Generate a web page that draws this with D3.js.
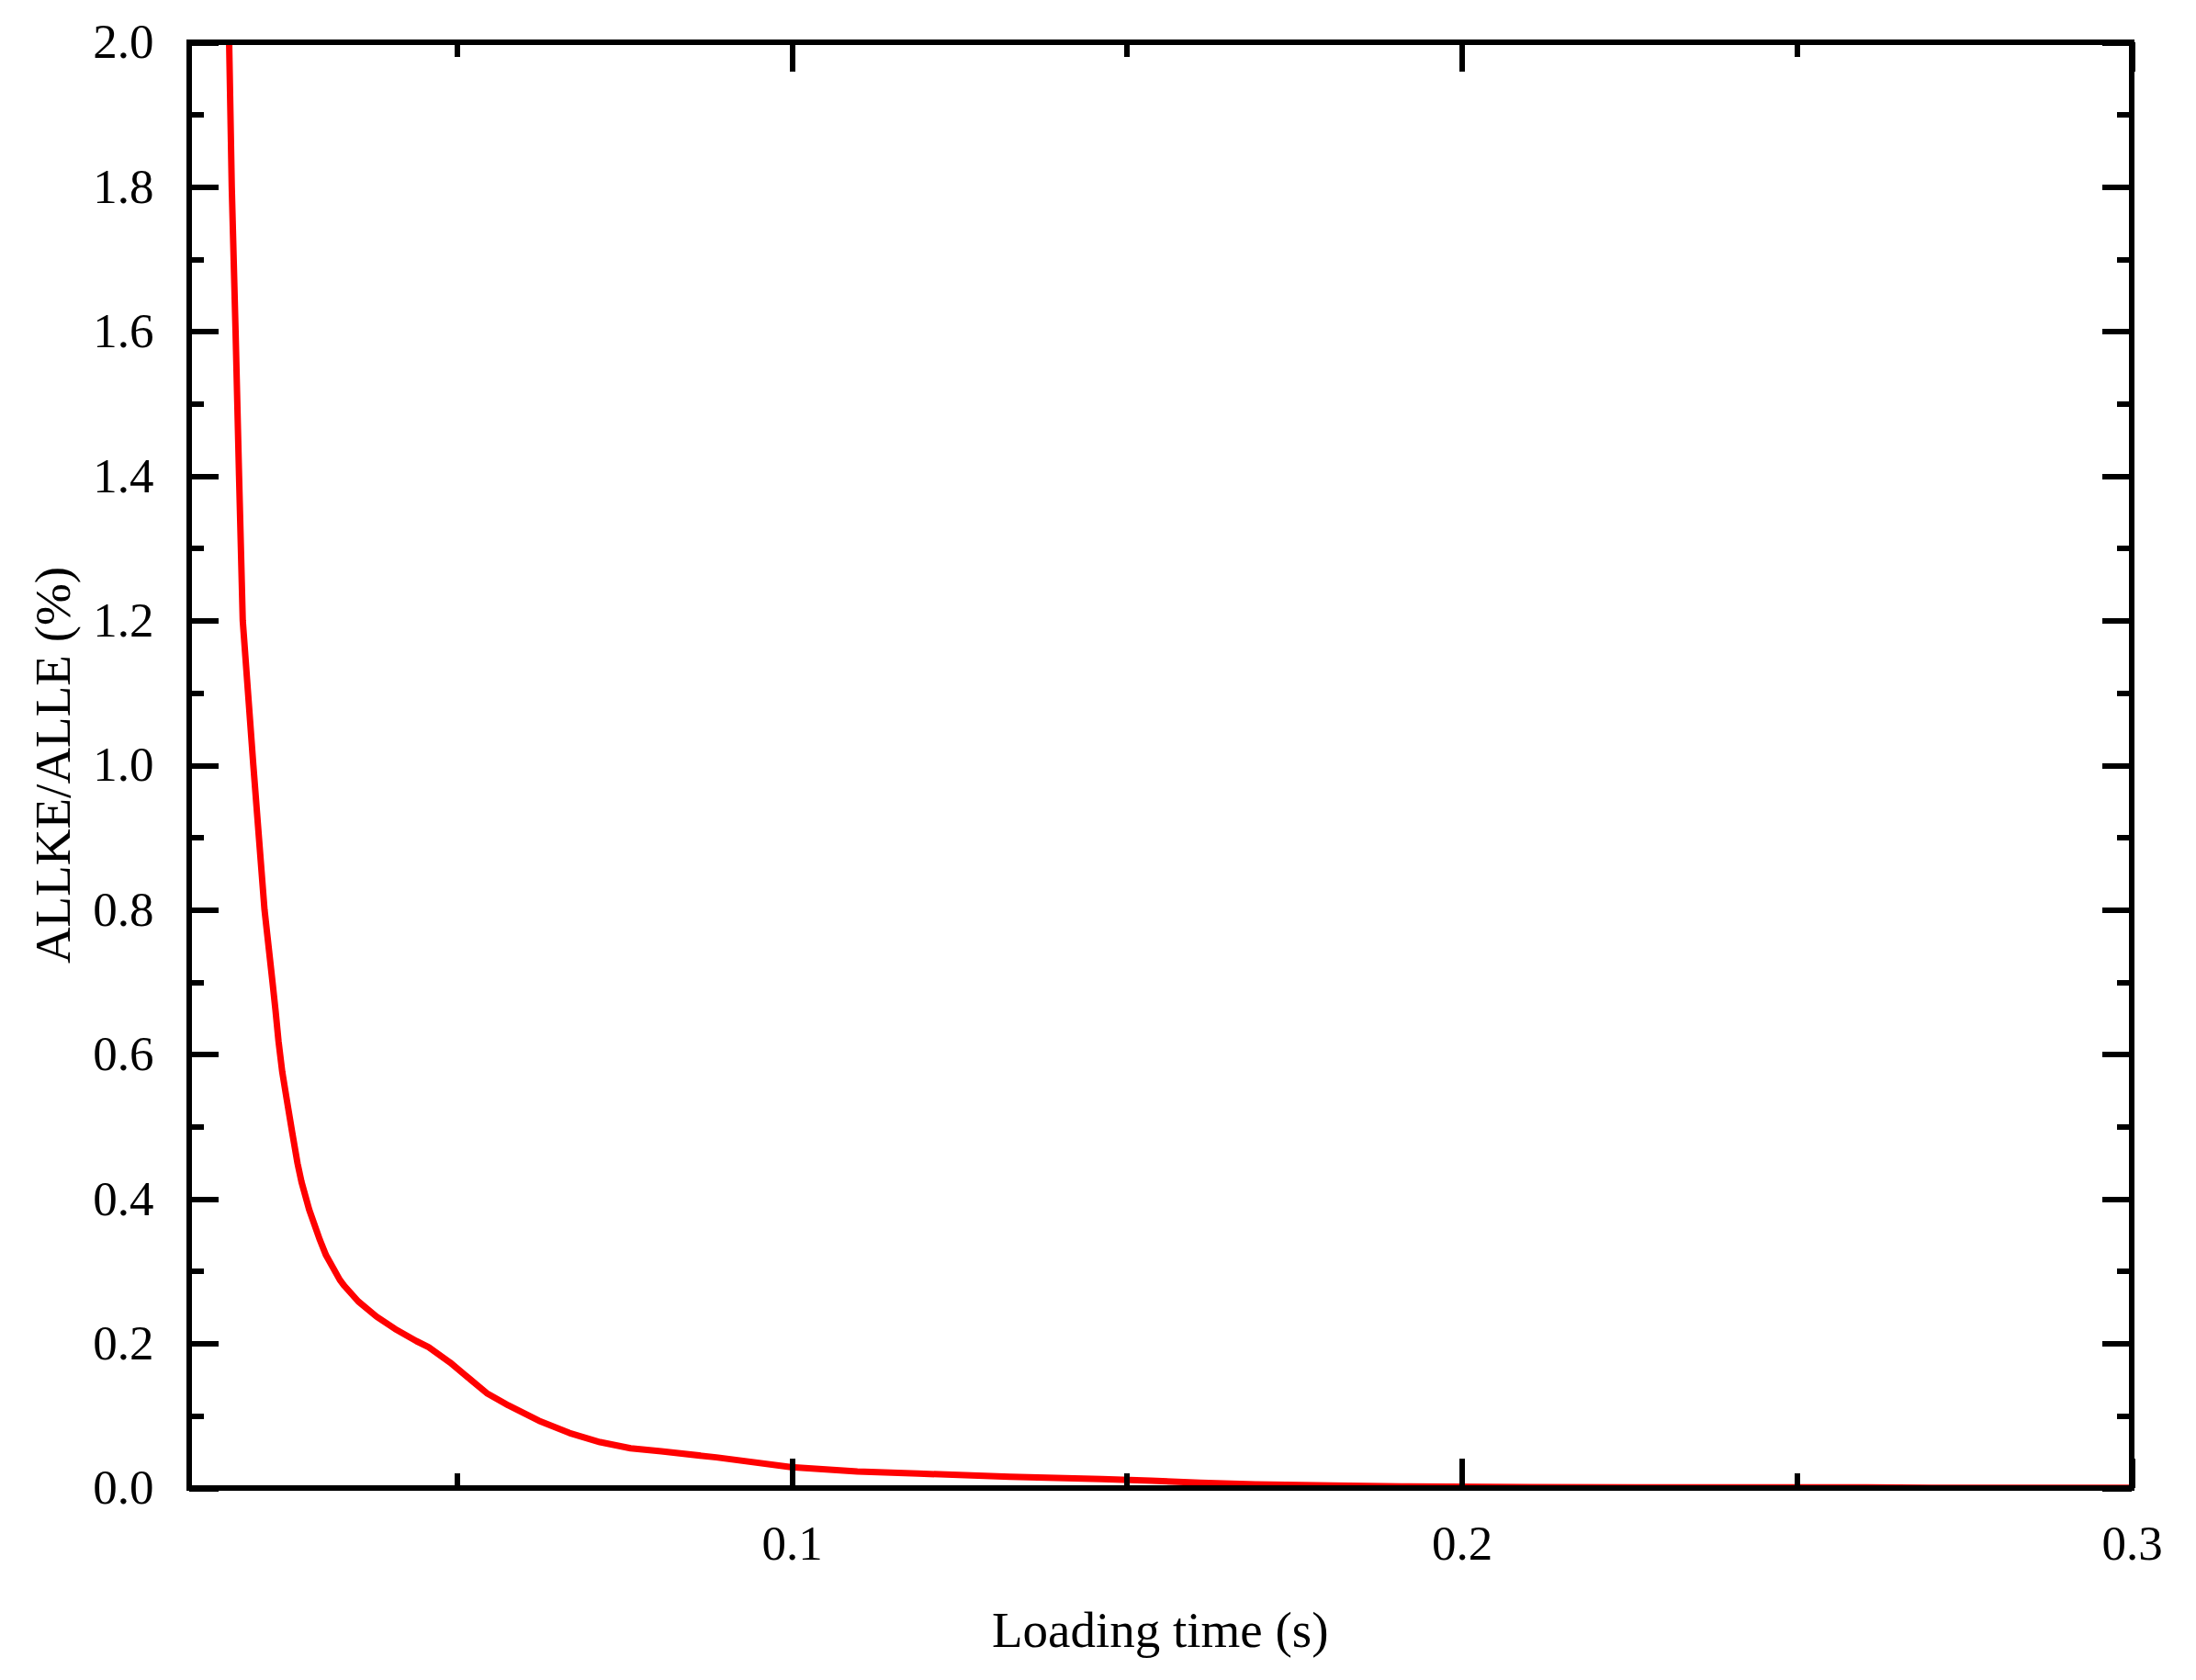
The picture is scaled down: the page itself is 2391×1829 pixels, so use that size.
<!DOCTYPE html>
<html>
<head>
<meta charset="utf-8">
<script src="https://d3js.org/d3.v7.min.js"></script>
<style>
  html, body { margin: 0; padding: 0; background: #ffffff; }
  svg { display: block; }
  text { font-family: "Liberation Serif", "Times New Roman", serif; fill: #000; }
</style>
</head>
<body>
<svg id="chart" width="2391" height="1829"></svg>
<script>
// ---- data ----
const loadingTime = [
  0.01544, 0.01603, 0.01642, 0.01699, 0.01751, 0.01806, 0.01964, 0.02131, 0.0225,
  0.02295, 0.0234, 0.02395, 0.02469, 0.02546, 0.02624, 0.02683, 0.02798, 0.02958,
  0.03049, 0.03255, 0.03324, 0.03529, 0.03803, 0.04077, 0.04397, 0.0458, 0.049,
  0.05174, 0.05448, 0.05768, 0.06225, 0.06682, 0.07139, 0.07596, 0.08053, 0.08875,
  0.0999, 0.1098, 0.1189, 0.1326, 0.1463, 0.1536, 0.161, 0.1692, 0.1806, 0.192,
  0.2103, 0.23, 0.25, 0.26, 0.27, 0.3
];
const allkeRatio = [
  2.2, 2.0, 1.8, 1.6, 1.4, 1.2, 1.0, 0.8, 0.7,
  0.661, 0.618, 0.576, 0.534, 0.491, 0.449, 0.4235, 0.385, 0.343,
  0.322, 0.288, 0.2795, 0.2583, 0.2372, 0.2202, 0.2033, 0.1948, 0.1737,
  0.1525, 0.1313, 0.1144, 0.0931, 0.0762, 0.0635, 0.055, 0.0508, 0.0424,
  0.0288, 0.0229, 0.0199, 0.0157, 0.0123, 0.0102, 0.0072, 0.0051, 0.0034, 0.0022,
  0.0013, 0.001, 0.0008, 0.0009, 0.0004, 0.0002
];
const xMajorTicks = [0.1, 0.2, 0.3];
const xMinorTicks = [0.05, 0.15, 0.25];
const yMajorTicks = [0, 0.2, 0.4, 0.6, 0.8, 1.0, 1.2, 1.4, 1.6, 1.8, 2.0];
const yMinorTicks = [0.1, 0.3, 0.5, 0.7, 0.9, 1.1, 1.3, 1.5, 1.7, 1.9];
const xDomain = [0.01, 0.3];
const yDomain = [0, 2.0];
const xTitle = "Loading time (s)";
const yTitle = "ALLKE/ALLE (%)";

// ---- layout ----
const pL = 205.5, pR = 2321, pT = 46, pB = 1620;
const lineW = 6, majorLen = 32, minorLen = 16, fontSize = 53;

const svg = d3.select("#chart");
svg.append("rect").attr("width", 2391).attr("height", 1829).attr("fill", "#fff");

const x = d3.scaleLinear().domain(xDomain).range([pL, pR]);
const y = d3.scaleLinear().domain(yDomain).range([pB, pT]);

const data = loadingTime.map((t, i) => ({ t, v: allkeRatio[i] }));

// clip
svg.append("defs").append("clipPath").attr("id", "plotClip")
  .append("rect").attr("x", pL).attr("y", pT)
  .attr("width", pR - pL).attr("height", pB - pT);

// curve
svg.append("path")
  .datum(data)
  .attr("clip-path", "url(#plotClip)")
  .attr("fill", "none")
  .attr("stroke", "#ff0000")
  .attr("stroke-width", 7)
  .attr("stroke-linejoin", "round")
  .attr("d", d3.line().x(d => x(d.t)).y(d => y(d.v)));

function styleAxis(g) {
  g.selectAll(".domain").remove();
  g.selectAll(".tick line").attr("stroke", "#000").attr("stroke-width", lineW)
    .attr("shape-rendering", "crispEdges");
  g.selectAll(".tick text").attr("font-size", fontSize)
    .attr("font-family", "Liberation Serif, Times New Roman, serif").attr("fill", "#000");
}

// bottom axis major with labels
const gB = svg.append("g").attr("transform", `translate(0,${pB})`)
  .call(d3.axisBottom(x).tickValues(xMajorTicks).tickSize(-majorLen).tickPadding(40)
    .tickFormat(d3.format(".1f")));
styleAxis(gB);
const gBm = svg.append("g").attr("transform", `translate(0,${pB})`)
  .call(d3.axisBottom(x).tickValues(xMinorTicks).tickSize(-minorLen).tickFormat(""));
styleAxis(gBm);

// top axis
const gT = svg.append("g").attr("transform", `translate(0,${pT})`)
  .call(d3.axisTop(x).tickValues(xMajorTicks).tickSize(-majorLen).tickFormat(""));
styleAxis(gT);
const gTm = svg.append("g").attr("transform", `translate(0,${pT})`)
  .call(d3.axisTop(x).tickValues(xMinorTicks).tickSize(-minorLen).tickFormat(""));
styleAxis(gTm);

// left axis
const gL = svg.append("g").attr("transform", `translate(${pL},0)`)
  .call(d3.axisLeft(y).tickValues(yMajorTicks).tickSize(-majorLen).tickPadding(38)
    .tickFormat(d3.format(".1f")));
styleAxis(gL);
const gLm = svg.append("g").attr("transform", `translate(${pL},0)`)
  .call(d3.axisLeft(y).tickValues(yMinorTicks).tickSize(-minorLen).tickFormat(""));
styleAxis(gLm);

// right axis
const gR = svg.append("g").attr("transform", `translate(${pR},0)`)
  .call(d3.axisRight(y).tickValues(yMajorTicks).tickSize(-majorLen).tickFormat(""));
styleAxis(gR);
const gRm = svg.append("g").attr("transform", `translate(${pR},0)`)
  .call(d3.axisRight(y).tickValues(yMinorTicks).tickSize(-minorLen).tickFormat(""));
styleAxis(gRm);

// frame
svg.append("rect")
  .attr("x", pL).attr("y", pT)
  .attr("width", pR - pL).attr("height", pB - pT)
  .attr("fill", "none").attr("stroke", "#000").attr("stroke-width", lineW)
  .attr("shape-rendering", "crispEdges");

// titles
svg.append("text")
  .attr("x", (pL + pR) / 2).attr("y", 1793)
  .attr("text-anchor", "middle").attr("font-size", 55)
  .text(xTitle);

svg.append("text")
  .attr("transform", `translate(76,${(pT + pB) / 2}) rotate(-90)`)
  .attr("text-anchor", "middle").attr("font-size", 55)
  .text(yTitle);
</script>
</body>
</html>
